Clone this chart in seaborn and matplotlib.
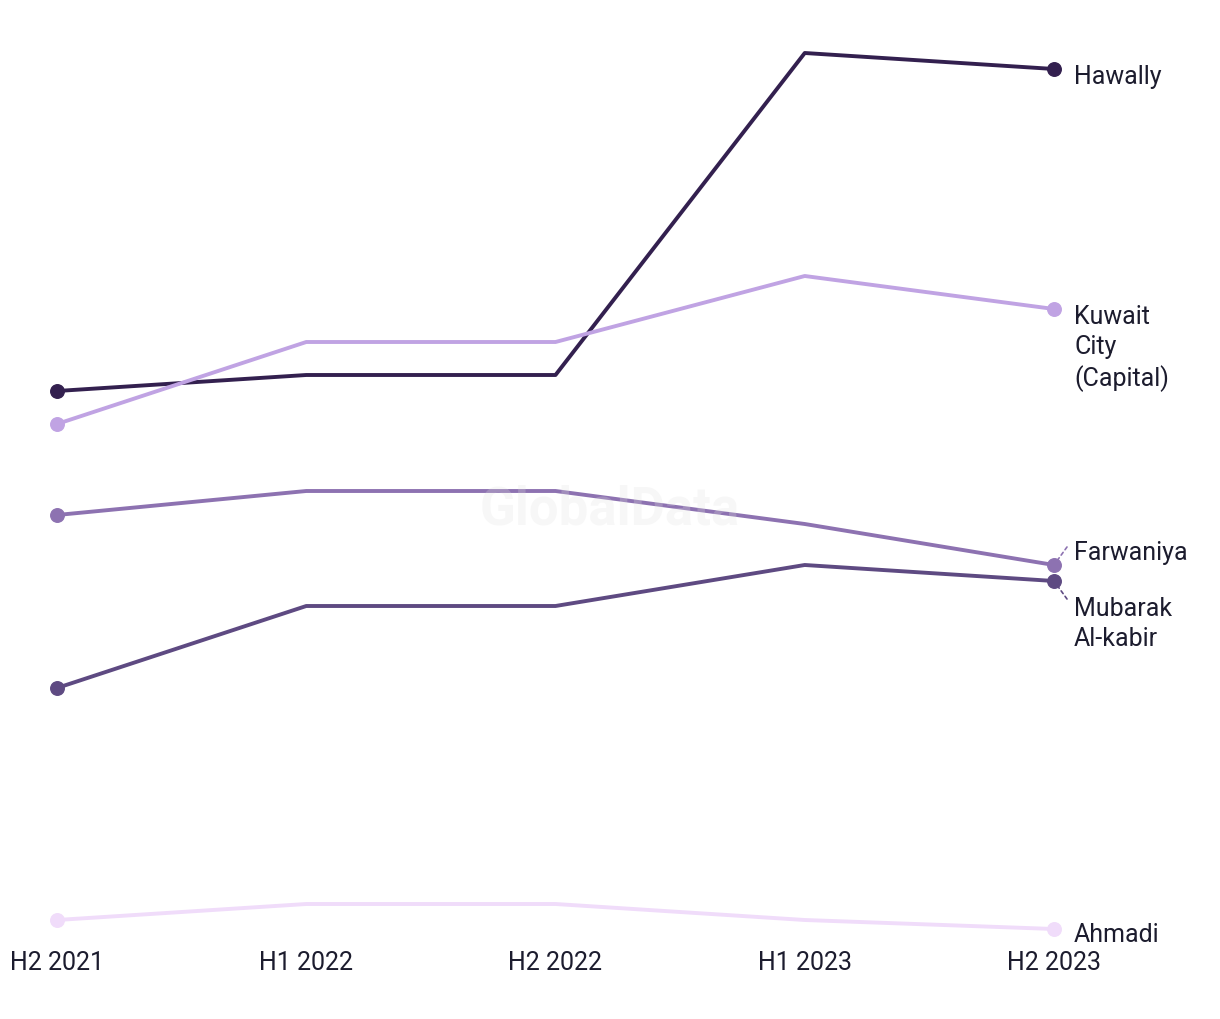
import pandas as pd
import matplotlib
matplotlib.use('Agg')
import matplotlib.pyplot as plt
import seaborn as sns

sns.set_style('white')
plt.rcParams['font.family'] = ['Roboto', 'DejaVu Sans']

periods = ['H2 2021', 'H1 2022', 'H2 2022', 'H1 2023', 'H2 2023']
regions = ['Hawally', 'Kuwait City (Capital)', 'Farwaniya', 'Mubarak Al-kabir', 'Ahmadi']

hawally = [54.8, 56.4, 56.4, 88.6, 87.0]
kuwait_city = [51.5, 59.7, 59.7, 66.3, 63.0]
farwaniya = [42.4, 44.8, 44.8, 41.5, 37.4]
mubarak = [25.1, 33.3, 33.3, 37.4, 35.8]
ahmadi = [1.9, 3.5, 3.5, 1.9, 1.0]

colors = ['#33204f', '#c0a3e3', '#8d72b1', '#5e4a82', '#f0dcfa']
labels = ['Hawally', 'Kuwait\nCity\n(Capital)', 'Farwaniya', 'Mubarak\nAl-kabir', 'Ahmadi']

series = [hawally, kuwait_city, farwaniya, mubarak, ahmadi]
rows = []
for name, vals in zip(regions, series):
    for i, v in enumerate(vals):
        rows.append({'region': name, 'pos': i, 'value': v})
df = pd.DataFrame(rows)

fig = plt.figure(figsize=(12.2, 10.2), dpi=100)
ax = fig.add_axes([57 / 1220, 80 / 1020, (1054 - 57) / 1220, 900 / 1020])

palette = dict(zip(regions, colors))
sns.lineplot(data=df, x='pos', y='value', hue='region', palette=palette,
             linewidth=2.8, legend=False, ax=ax)
for line in ax.lines:
    line.set_clip_on(False)

ends = df[df['pos'].isin([0, 4])]
for name in regions:
    d = ends[ends['region'] == name]
    ax.scatter(d['pos'], d['value'], s=95, color=palette[name], zorder=5, clip_on=False)

ax.set_xlim(0, 4)
ax.set_ylim(0, 90)
ax.set_xticks(range(len(periods)))
ax.set_xticklabels(periods, fontsize=18, color='#1c1c2e')
ax.tick_params(axis='x', length=0, pad=8)
ax.set_yticks([])
ax.set_xlabel('')
ax.set_ylabel('')
sns.despine(ax=ax, left=True, bottom=True)

# right-hand labels (offsets in pixels from last point)
offsets = [(20, -7), (20, 5), (20, 13), (20, -15), (20, -5)]
for name, lab, vals, (dx, dy) in zip(regions, labels, series, offsets):
    ax.annotate(lab, xy=(4, vals[-1]), xytext=(dx * 0.72, dy * 0.72),
                textcoords='offset points', fontsize=18, color='#1c1c2e',
                va='top' if lab.count('\n') else 'center', ha='left',
                linespacing=1.3, annotation_clip=False)

# dashed leader lines for the close pair
ax.annotate('', xy=(4, farwaniya[-1]), xytext=(13 * 0.72, 18 * 0.72),
            textcoords='offset points',
            arrowprops=dict(arrowstyle='-', linestyle=(0, (2, 2)), color=colors[2], lw=1.2,
                            shrinkA=0, shrinkB=5), annotation_clip=False)
ax.annotate('', xy=(4, mubarak[-1]), xytext=(13 * 0.72, -18 * 0.72),
            textcoords='offset points',
            arrowprops=dict(arrowstyle='-', linestyle=(0, (2, 2)), color=colors[3], lw=1.2,
                            shrinkA=0, shrinkB=5), annotation_clip=False)

fig.text(0.5, 0.5, 'GlobalData', fontsize=38, fontweight='bold', color='#e0e0e0',
         alpha=0.25, ha='center', va='center', zorder=10)

fig.savefig('out.png', dpi=100)
